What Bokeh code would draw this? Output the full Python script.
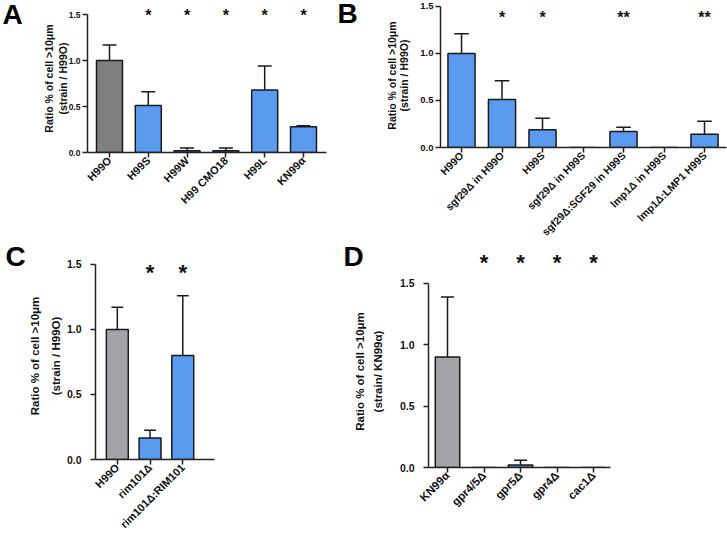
import math
from bokeh.plotting import figure
from bokeh.models import Range1d, FixedTicker, NumeralTickFormatter, LinearAxis
from bokeh.layouts import row, column
from bokeh.core.properties import value
from bokeh.embed import file_html
from bokeh.resources import INLINE

# ---------------- data ----------------
a_labels = ["H99O", "H99S", "H99W", "H99 CMO18", "H99L", "KN99α"]
a_values = [1.00, 0.51, 0.02, 0.02, 0.68, 0.28]
a_errors = [0.17, 0.15, 0.03, 0.03, 0.26, 0.01]
a_stars = ["", "*", "*", "*", "*", "*"]

b_labels = ["H99O", "sgf29Δ in H99O", "H99S", "sgf29Δ in H99S",
            "sgf29Δ:SGF29 in H99S", "lmp1Δ in H99S", "lmp1Δ:LMP1 H99S"]
b_values = [1.00, 0.51, 0.19, 0.0, 0.17, 0.0, 0.14]
b_errors = [0.21, 0.20, 0.12, 0.0, 0.045, 0.0, 0.14]
b_stars = ["", "*", "*", "", "**", "", "**"]

c_labels = ["H99O", "rim101Δ", "rim101Δ:RIM101"]
c_values = [1.00, 0.165, 0.80]
c_errors = [0.17, 0.06, 0.46]
c_stars = ["", "*", "*"]

d_labels = ["KN99α", "gpr4/5Δ", "gpr5Δ", "gpr4Δ", "cac1Δ"]
d_values = [0.90, 0.0, 0.02, 0.0, 0.0]
d_errors = [0.49, 0.0, 0.04, 0.0, 0.0]
d_stars = ["", "*", "*", "*", "*"]

y_ticks = [0.0, 0.5, 1.0, 1.5]

DARK_GRAY = "#7f7f7f"
LIGHT_GRAY = "#a3a3a8"
BLUE = "#5a9bf0"
FONT = "Liberation Sans"
INK = "#1a1a1a"
LETTER_SIZE = 28
LETTER_PAD = 0.19 * LETTER_SIZE   # em-box top to cap top


def bare_fig(width, height, x_range, y_range):
    f = figure(width=width, height=height, output_backend="svg",
               toolbar_location=None, x_range=x_range, y_range=y_range,
               x_axis_type=None, y_axis_type=None, min_border_left=0,
               min_border_right=0, min_border_top=0, min_border_bottom=0)
    f.frame_align = False
    f.outline_line_color = None
    f.xgrid.visible = False
    f.ygrid.visible = False
    return f


def draw_letter(f, letter, x, cap_top_px, height):
    f.text(x=[x], y=[height - cap_top_px + LETTER_PAD], text=[letter],
           text_font=value(FONT), text_font_style="bold",
           text_font_size=f"{LETTER_SIZE}px", text_color="#000000",
           text_align="left", text_baseline="top")


def letter_fig(letter, width, height, x_px, cap_top_px):
    f = bare_fig(width, height, Range1d(0, width), Range1d(0, height))
    draw_letter(f, letter, x_px, cap_top_px, height)
    return f


def add_stars(p, xs, stars, star_y, star_size):
    sx = [x for x, s in zip(xs, stars) if s]
    st = [s for s in stars if s]
    p.text(x=sx, y=[star_y] * len(sx), text=st, text_align="center",
           text_baseline="middle", text_font_size=f"{star_size}px",
           text_font=value(FONT), text_font_style="bold", text_color="#111111",
           y_offset=0.22 * star_size)


def panel(labels, values, errors, colors, stars, *, width, height,
          bl, br, bt, bb, x0, x1, y_end, star_y, star_size, xtick_size,
          ytick_size, ytick_standoff, title_size, title1, title2, so_inner,
          so_outer, cap=0.18, bar_w=0.67):
    p = figure(width=width, height=height, output_backend="svg",
               toolbar_location=None, x_range=Range1d(x0, x1),
               y_range=Range1d(0, y_end), min_border_left=bl,
               min_border_right=br, min_border_top=bt, min_border_bottom=bb)
    p.frame_align = False
    p.outline_line_color = None
    p.xgrid.visible = False
    p.ygrid.visible = False
    p.background_fill_color = "white"

    xs = list(range(1, len(labels) + 1))
    p.vbar(x=xs, top=values, bottom=0, width=bar_w, fill_color=colors,
           line_color=INK, line_width=1.5)
    tops = [v + e for v, e in zip(values, errors)]
    ex = [x for x, e in zip(xs, errors) if e > 0]
    ev = [v for v, e in zip(values, errors) if e > 0]
    et = [t for t, e in zip(tops, errors) if e > 0]
    p.segment(x0=ex, y0=ev, x1=ex, y1=et, line_color=INK, line_width=1.5)
    p.segment(x0=[x - cap for x in ex], y0=et, x1=[x + cap for x in ex], y1=et,
              line_color=INK, line_width=1.5)

    if star_y is not None:
        add_stars(p, xs, stars, star_y, star_size)

    for ax in (p.xaxis[0], p.yaxis[0]):
        ax.axis_line_width = 1.5
        ax.axis_line_color = "#222222"
        ax.major_tick_line_color = "#222222"
        ax.major_tick_line_width = 1.5
        ax.major_tick_in = 0
        ax.major_tick_out = 5
        ax.minor_tick_line_color = None
        ax.major_label_text_font = FONT
        ax.major_label_text_font_style = "bold"
        ax.major_label_text_color = "#111111"

    p.xaxis.ticker = FixedTicker(ticks=xs)
    p.xaxis.major_label_overrides = {x: lab for x, lab in zip(xs, labels)}
    p.xaxis.major_label_orientation = math.pi / 4
    p.xaxis.major_label_standoff = 1
    p.xaxis.major_label_text_font_size = f"{xtick_size}px"

    p.yaxis.ticker = FixedTicker(ticks=y_ticks)
    p.yaxis.formatter = NumeralTickFormatter(format="0.0")
    p.yaxis.bounds = (0, 1.5)
    p.yaxis.major_label_standoff = ytick_standoff
    p.yaxis.major_label_text_font_size = f"{ytick_size}px"
    p.yaxis.axis_label = title2
    p.yaxis.axis_label_standoff = so_inner
    p.yaxis.axis_label_text_font = FONT
    p.yaxis.axis_label_text_font_style = "bold"
    p.yaxis.axis_label_text_font_size = f"{title_size}px"
    p.yaxis.axis_label_text_color = "#111111"

    outer = LinearAxis(ticker=FixedTicker(ticks=[]), axis_line_color=None,
                       major_tick_line_color=None, minor_tick_line_color=None,
                       major_tick_out=0, major_tick_in=0,
                       axis_label=title1, axis_label_standoff=so_outer,
                       axis_label_text_font=FONT,
                       axis_label_text_font_style="bold",
                       axis_label_text_font_size=f"{title_size}px",
                       axis_label_text_color="#111111")
    p.add_layout(outer, "left")
    return p


# ---------------- top row ----------------
fA = letter_fig("A", 25, 245, 2, 4)
pA = panel(a_labels, a_values, a_errors, [DARK_GRAY] + [BLUE] * 5, a_stars,
           width=305, height=245, bl=62, br=4, bt=4, bb=93,
           x0=0.433, x1=6.593, y_end=1.609, star_y=1.527, star_size=16,
           xtick_size=11, ytick_size=8.5, ytick_standoff=2, title_size=10.5,
           title1="Ratio % of cell >10μm", title2="(strain / H99O)",
           so_inner=-3, so_outer=-1)

fB = letter_fig("B", 28, 245, 7, 3)
pB = panel(b_labels, b_values, b_errors, [BLUE] * 7, b_stars,
           width=369, height=245, bl=82, br=1, bt=3, bb=96,
           x0=0.481, x1=7.543, y_end=1.531, star_y=1.416, star_size=16,
           xtick_size=10.5, ytick_size=9.5, ytick_standoff=2, title_size=10.5,
           title1="Ratio % of cell >10μm", title2="(strain / H99O)",
           so_inner=7, so_outer=-2)

# ---------------- bottom row ----------------
fC = letter_fig("C", 25, 293, 5, 1)
pC = panel(c_labels, c_values, c_errors, [LIGHT_GRAY, BLUE, BLUE], c_stars,
           width=305, height=293, bl=69, br=116, bt=7, bb=79,
           x0=0.333, x1=3.97, y_end=1.592, star_y=1.477, star_size=22,
           xtick_size=11, ytick_size=10.5, ytick_standoff=9, title_size=11.5,
           title1="Ratio % of cell >10μm", title2="(strain / H99O)",
           so_inner=2, so_outer=6)

D_W, D_BL, D_BR = 397, 98, 117
D_X0, D_X1 = 0.479, 5.465
pD = panel(d_labels, d_values, d_errors, [LIGHT_GRAY] + [BLUE] * 4, d_stars,
           width=D_W, height=264, bl=D_BL, br=D_BR, bt=1, bb=71,
           x0=D_X0, x1=D_X1, y_end=1.565, star_y=None, star_size=22,
           xtick_size=11.5, ytick_size=10.5, ytick_standoff=9, title_size=11.5,
           title1="Ratio % of cell >10μm", title2="(strain/ KN99α)",
           so_inner=13, so_outer=3)

# strip above D holding the panel letter and the significance stars,
# on the same horizontal scale as panel D
d_scale = (D_W - D_BL - D_BR) / (D_X1 - D_X0)
strip_h = 29
strip_x0 = D_X0 - D_BL / d_scale
sD = bare_fig(D_W, strip_h, Range1d(strip_x0, D_X1 + D_BR / d_scale),
              Range1d(0, strip_h))
draw_letter(sD, "D", strip_x0 + 13 / d_scale, 1, strip_h)
add_stars(sD, list(range(1, len(d_labels) + 1)), d_stars, strip_h - 12, 22)

layout = column(row(fA, pA, fB, pB), row(fC, pC, column(sD, pD)))
open("out.html", "w").write(file_html(layout, INLINE))
